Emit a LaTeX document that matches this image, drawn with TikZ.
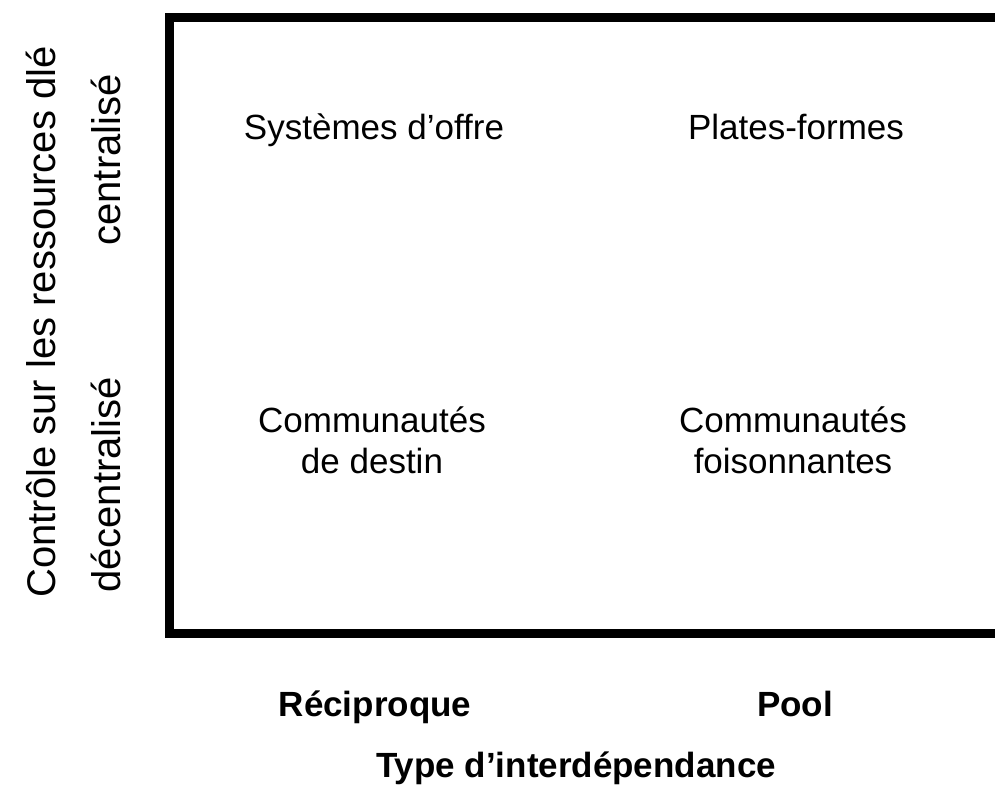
\documentclass[tikz,border=0pt]{standalone}
\usepackage{fontspec}
\setmainfont{Liberation Sans}
\begin{document}
\begin{tikzpicture}[x=1pt,y=-1pt,
  quad/.style={anchor=base,align=center,font=\fontsize{35}{41}\selectfont},
  axis/.style={anchor=base,font=\bfseries\fontsize{35}{40}\selectfont},
  side/.style={anchor=base,rotate=90,font=\fontsize{40}{44}\selectfont}]
\useasboundingbox[fill=white] (0,0) rectangle (995,787);
\draw[line width=9pt,miter limit=10] (1010,17) coordinate (tr) -- (169.5,17) coordinate (tl) -- (169.5,633) coordinate (bl) -- (1010,633) coordinate (br);
\node[quad] (so) at (374,139) {Systèmes d’offre};
\node[quad] (pf) at (796,139) {Plates-formes};
\node[quad,anchor=north] (cd) at (372,403) {Communautés\\de destin};
\node[quad,anchor=north] (cf) at (793,403) {Communautés\\foisonnantes};
\node[axis] (rec) at (375,716) {Réciproque};
\node[axis] (pool) at (795,716) {Pool};
\node[axis] (type) at (576,777) {Type d’interdépendance};
\node[side] (ctrl) at (55,322) {Contrôle sur les ressources dlé};
\node[side] (cen) at (120,160) {centralisé};
\node[side] (dec) at (120,485) {décentralisé};
\end{tikzpicture}
\end{document}
